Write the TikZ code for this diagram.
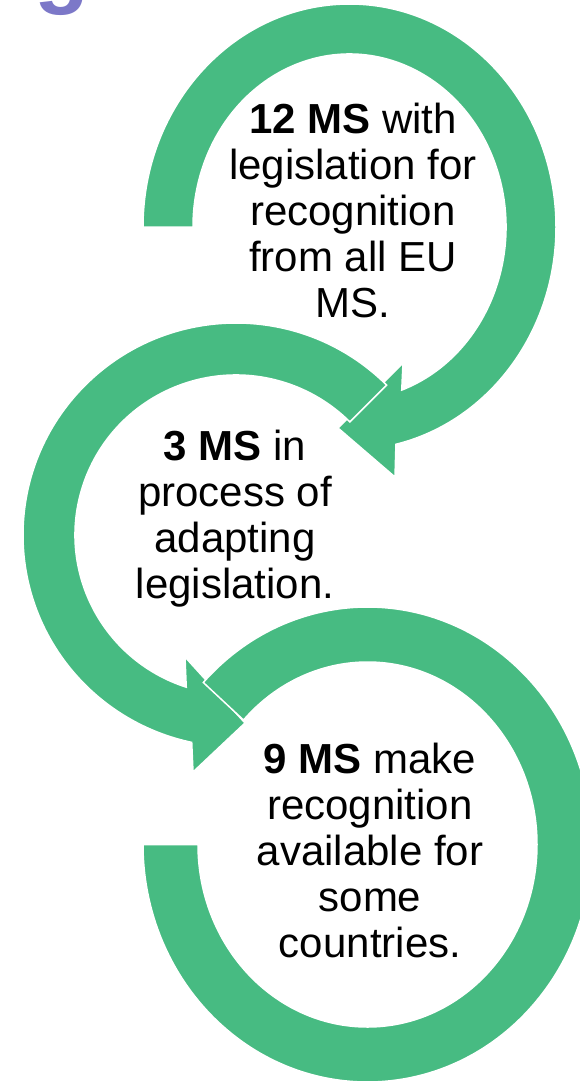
\documentclass[tikz,border=0pt]{standalone}
\usepackage{fontspec}
\setmainfont{Liberation Sans}
\usepackage{tikz}
\usetikzlibrary{calc}
\definecolor{ringgreen}{HTML}{47BB82}
\definecolor{titlepurple}{HTML}{7C78C8}

\begin{document}
\begin{tikzpicture}[x=1pt, y=-1pt,
    band/.style={fill=ringgreen, draw=white, line width=1.5pt},
    msnote/.style={font=\fontsize{42}{46}\selectfont, align=center, inner sep=0pt, anchor=north}]
        \useasboundingbox (0,0) rectangle (580,1081);
        \coordinate (c1) at (349.5,227);
        \coordinate (c2) at (236,535);
        \coordinate (c3) at (367.5,844.5);
        \node[font=\fontsize{90}{100}\selectfont\bfseries, text=titlepurple, inner sep=0pt, anchor=base west] (title) at (34,-3) {g};
        \path[band] ($(c1)+(180:206.5 and 223)$) arc[start angle=180, end angle=437, x radius=206.5, y radius=223]
            -- (395,477) -- (338,428) -- (403,363)
            -- ($(c1)+(430.5:156.5 and 173)$) arc[start angle=430.5, end angle=180, x radius=156.5, y radius=173] -- cycle;
        \path[band] ($(c2)+(315:213 and 212)$) arc[start angle=315, end angle=102, x radius=213, y radius=212]
            -- (193,772) -- (245,723) -- (185,657)
            -- ($(c2)+(108:161 and 160)$) arc[start angle=108, end angle=315, x radius=161, y radius=160] -- cycle;
        \path[band] ($(c3)+(223:224.5 and 237.5)$) arc[start angle=223, end angle=540, x radius=224.5, y radius=237.5]
            -- ($(c3)+(540:169.5 and 182.5)$) arc[start angle=540, end angle=223, x radius=169.5, y radius=182.5] -- cycle;
        \node[msnote] (ms12) at (353,103) {\textbf{12 MS} with\\legislation for\\recognition\\from all EU\\MS.};
        \node[msnote] (ms3) at (235,430) {\textbf{3 MS} in\\process of\\adapting\\legislation.};
        \node[msnote] (ms9) at (370,743) {\textbf{9 MS} make\\recognition\\available for\\some\\countries.};
\end{tikzpicture}
\end{document}
